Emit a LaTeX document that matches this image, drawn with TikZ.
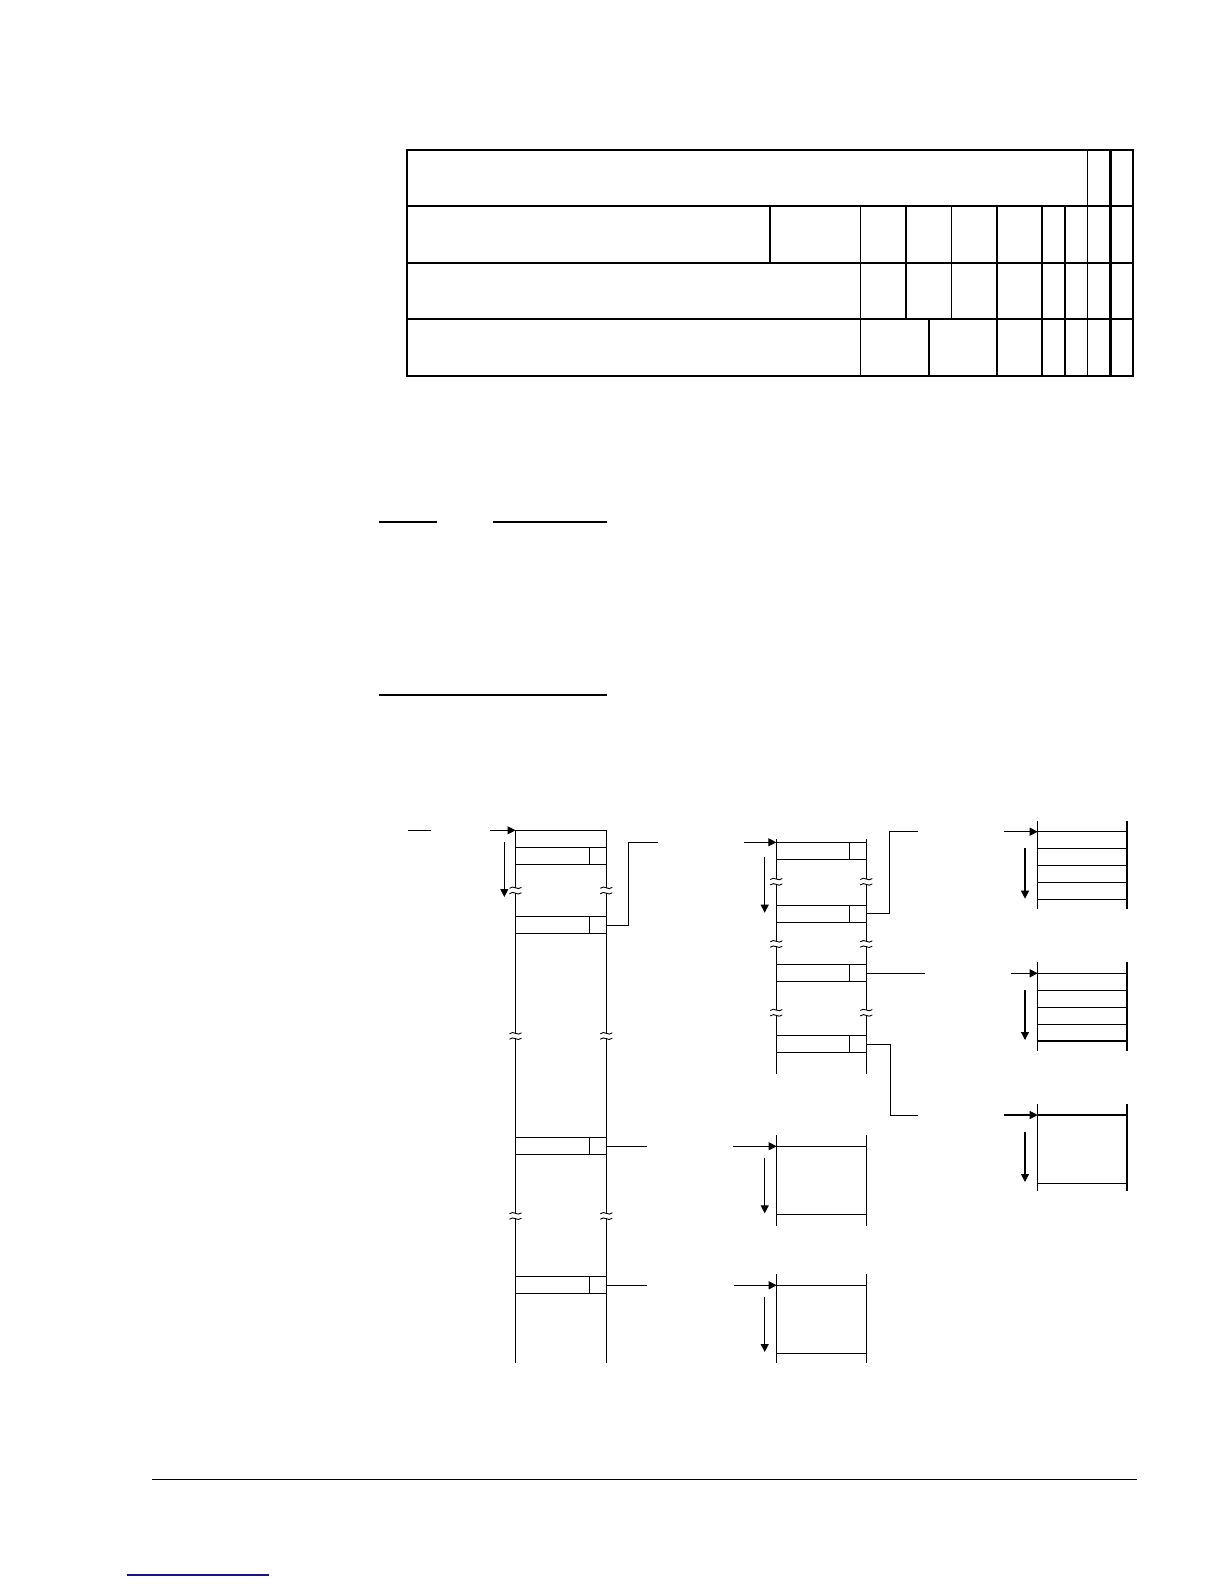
\documentclass[tikz,border=0pt]{standalone}
\usetikzlibrary{arrows.meta}
\definecolor{navy}{RGB}{20,20,140}
\newcommand\brkmark[2]{%
  \fill[white] (#1-2.5,#2-2.3) rectangle (#1+2.5,#2+2.3);
  \draw[brk] (#1-6,#2-2.2) .. controls (#1-2,#2-6.2) and (#1+2,#2+0.8) .. (#1+6,#2-3.2);
  \draw[brk] (#1-6,#2+3.2) .. controls (#1-2,#2-0.8) and (#1+2,#2+6.2) .. (#1+6,#2+2.2);
}
\tikzset{
  ln/.style={line width=1.2pt},
  thk/.style={line width=2.3pt},
  thn/.style={line width=1.1pt},
  brk/.style={line width=0.9pt},
  arr/.style={ln,-{Triangle[length=8pt,width=8pt]}},
}
\begin{document}
\begin{tikzpicture}[x=1pt,y=-1pt]
\useasboundingbox (0,0) rectangle (1224,1584);
% ---------------- table ----------------
\draw[thk] (407,149.7) rectangle (1133,376);
\draw[thk] (407,205.7) -- (1133,205.7);
\draw[thk] (407,262.7) -- (1133,262.7);
\draw[thn] (407,319) -- (1133,319);
\draw[thn] (1087.5,149.7) -- (1087.5,376);
\draw[thk] (1110.6,149.7) -- (1110.6,376);
\draw[thk] (769.9,205.7) -- (769.9,262.7);
\draw[thn] (860.5,205.7) -- (860.5,376);
\draw[thk] (905.8,205.7) -- (905.8,319);
\draw[thn] (951.6,205.7) -- (951.6,319);
\draw[thk] (928.9,319) -- (928.9,376);
\draw[thk] (996.9,205.7) -- (996.9,376);
\draw[thk] (1041.7,205.7) -- (1041.7,376);
\draw[thk] (1064.8,205.7) -- (1064.8,376);
% ---------------- rules ----------------
\draw[ln] (379,522) -- (437,522);
\draw[ln] (493,522) -- (607,522);
\draw[ln] (379,695) -- (607,695);
% ---------------- column 1 ----------------
\draw[ln] (515.5,830.3) -- (515.5,1363.3);
\draw[ln] (606.3,830.3) -- (606.3,1363.3);
\draw[ln] (515.5,830.3) -- (606.3,830.3);
\foreach \t in {847.3,916.3,1137.3,1276.3}{
  \draw[ln] (515.5,\t) rectangle (606.3,\t+17);
  \draw[ln] (589.3,\t) -- (589.3,\t+17);
}
\foreach \y in {890.5,1036,1216}{\brkmark{515.5}{\y}\brkmark{606.3}{\y}}
\draw[ln] (408,830.3) -- (431,830.3);
\coordinate (c1in) at (515.5,830.3);
\draw[arr] (490,830.3) -- (c1in);
\draw[arr] (504.3,842) -- (504.3,897);
\coordinate (a0) at (606.3,925.3);
\coordinate (a1) at (657.7,842.3);
\draw[ln] (a0) -- (628.7,925.3) -- (628.7,842.3) -- (a1);
\coordinate (b0) at (606.3,1146.3);
\coordinate (b1) at (646.7,1146.3);
\draw[ln] (b0) -- (b1);
\coordinate (d0) at (606.3,1285.3);
\coordinate (d1) at (646.7,1285.3);
\draw[ln] (d0) -- (d1);
% ---------------- column 2 ----------------
\draw[ln] (776.3,839) -- (776.3,1074.3);
\draw[ln] (866.3,839) -- (866.3,1074.3);
\foreach \t in {842.3,905.3,964.3,1035.3}{
  \draw[ln] (776.3,\t) rectangle (866.3,\t+17);
  \draw[ln] (849.3,\t) -- (849.3,\t+17);
}
\foreach \y in {881.7,944,1012.7}{\brkmark{776.3}{\y}\brkmark{866.3}{\y}}
\coordinate (c2in) at (776.3,842.3);
\draw[arr] (744,842.3) -- (c2in);
\draw[arr] (764.7,857.3) -- (764.7,912.7);
\coordinate (e0) at (866.3,913.3);
\coordinate (e1) at (918,831.3);
\draw[ln] (e0) -- (889.7,913.3) -- (889.7,831.3) -- (e1);
\coordinate (f0) at (866.3,973.3);
\coordinate (f1) at (924.7,973.3);
\draw[ln] (f0) -- (f1);
\coordinate (g0) at (866.3,1044.3);
\coordinate (g1) at (918,1115.3);
\draw[ln] (g0) -- (890.7,1044.3) -- (890.7,1115.3) -- (g1);
% ---------------- column 3 ----------------
% 3a
\draw[ln] (1037.7,820.7) -- (1037.7,909.3);
\draw[ln] (1127,820.7) -- (1127,909.3);
\foreach \y in {831.7,848.3,865.3,882.3,899.3}{\draw[ln] (1037.7,\y) -- (1127,\y);}
\coordinate (c3a) at (1037.7,831.7);
\draw[arr] (1004,831.7) -- (c3a);
\draw[arr] (1025,848.3) -- (1025,898.7);
% 3b
\draw[ln] (1037.7,962.3) -- (1037.7,1051.3);
\draw[ln] (1127,962.3) -- (1127,1051.3);
\foreach \y in {973.3,990.3,1007.3,1024.3,1041}{\draw[ln] (1037.7,\y) -- (1127,\y);}
\coordinate (c3b) at (1037.7,973.3);
\draw[arr] (1011,973.3) -- (c3b);
\draw[arr] (1025,990) -- (1025,1040);
% 3c
\draw[ln] (1037.7,1104) -- (1037.7,1191);
\draw[ln] (1127,1104) -- (1127,1191);
\foreach \y in {1115,1183.3}{\draw[ln] (1037.7,\y) -- (1127,\y);}
\coordinate (c3c) at (1037.7,1115);
\draw[arr] (1004,1115) -- (c3c);
\draw[arr] (1025,1131.7) -- (1025,1182);
% ---------------- column 4 ----------------
\draw[ln] (776.7,1135) -- (776.7,1225.7);
\draw[ln] (866.3,1135) -- (866.3,1225.7);
\foreach \y in {1146.3,1214.3}{\draw[ln] (776.7,\y) -- (866.3,\y);}
\coordinate (c4a) at (776.7,1146.3);
\draw[arr] (733,1146.3) -- (c4a);
\draw[arr] (764.7,1157.7) -- (764.7,1213.3);
\draw[ln] (776.7,1273.7) -- (776.7,1363.3);
\draw[ln] (866.3,1273.7) -- (866.3,1363.3);
\foreach \y in {1285.3,1353.3}{\draw[ln] (776.7,\y) -- (866.3,\y);}
\coordinate (c4b) at (776.7,1285.3);
\draw[arr] (734.3,1285.3) -- (c4b);
\draw[arr] (764.7,1296.7) -- (764.7,1352);
% ---------------- footer ----------------
\draw[ln] (152.3,1479.3) -- (1137.3,1479.3);
\draw[navy,line width=1.1pt] (127,1575) -- (268.7,1575);
\end{tikzpicture}
\end{document}
